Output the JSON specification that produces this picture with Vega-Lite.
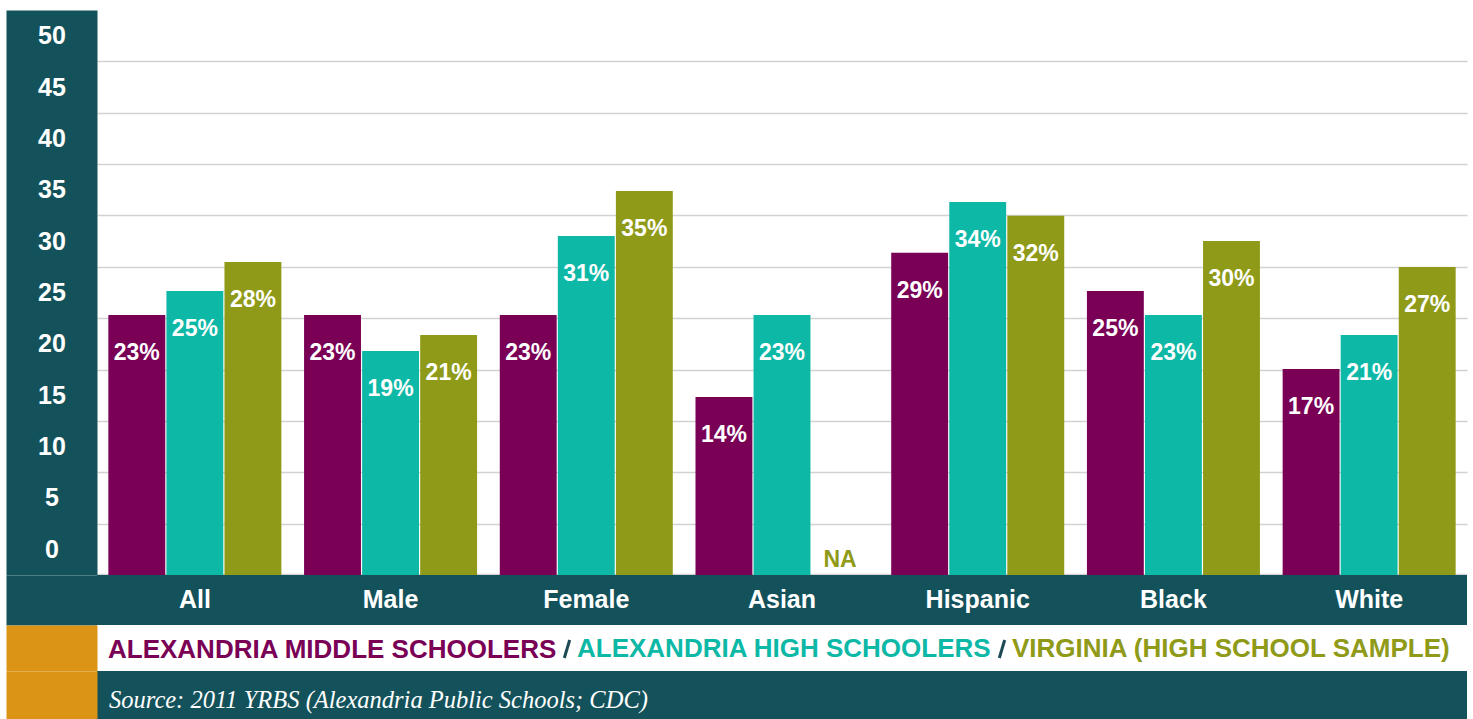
{
  "$schema": "https://vega.github.io/schema/vega-lite/v6.json",
  "background": "white",
  "padding": {"left": 5, "top": 10, "right": 7, "bottom": 0},
  "bounds": "flush",
  "spacing": 0,
  "config": {
    "view": {"stroke": null},
    "font": "Liberation Sans"
  },
  "datasets": {
    "rates": [
      {"group": "All", "series": "ALEXANDRIA MIDDLE SCHOOLERS", "value": 22.8, "label": "23%"},
      {"group": "All", "series": "ALEXANDRIA HIGH SCHOOLERS", "value": 25.15, "label": "25%"},
      {"group": "All", "series": "VIRGINIA (HIGH SCHOOL SAMPLE)", "value": 27.97, "label": "28%"},
      {"group": "Male", "series": "ALEXANDRIA MIDDLE SCHOOLERS", "value": 22.8, "label": "23%"},
      {"group": "Male", "series": "ALEXANDRIA HIGH SCHOOLERS", "value": 19.3, "label": "19%"},
      {"group": "Male", "series": "VIRGINIA (HIGH SCHOOL SAMPLE)", "value": 20.86, "label": "21%"},
      {"group": "Female", "series": "ALEXANDRIA MIDDLE SCHOOLERS", "value": 22.8, "label": "23%"},
      {"group": "Female", "series": "ALEXANDRIA HIGH SCHOOLERS", "value": 30.5, "label": "31%"},
      {"group": "Female", "series": "VIRGINIA (HIGH SCHOOL SAMPLE)", "value": 34.88, "label": "35%"},
      {"group": "Asian", "series": "ALEXANDRIA MIDDLE SCHOOLERS", "value": 14.83, "label": "14%"},
      {"group": "Asian", "series": "ALEXANDRIA HIGH SCHOOLERS", "value": 22.8, "label": "23%"},
      {"group": "Asian", "series": "VIRGINIA (HIGH SCHOOL SAMPLE)", "value": null, "label": "NA"},
      {"group": "Hispanic", "series": "ALEXANDRIA MIDDLE SCHOOLERS", "value": 28.87, "label": "29%"},
      {"group": "Hispanic", "series": "ALEXANDRIA HIGH SCHOOLERS", "value": 33.81, "label": "34%"},
      {"group": "Hispanic", "series": "VIRGINIA (HIGH SCHOOL SAMPLE)", "value": 32.47, "label": "32%"},
      {"group": "Black", "series": "ALEXANDRIA MIDDLE SCHOOLERS", "value": 25.15, "label": "25%"},
      {"group": "Black", "series": "ALEXANDRIA HIGH SCHOOLERS", "value": 22.8, "label": "23%"},
      {"group": "Black", "series": "VIRGINIA (HIGH SCHOOL SAMPLE)", "value": 30.01, "label": "30%"},
      {"group": "White", "series": "ALEXANDRIA MIDDLE SCHOOLERS", "value": 17.55, "label": "17%"},
      {"group": "White", "series": "ALEXANDRIA HIGH SCHOOLERS", "value": 20.86, "label": "21%"},
      {"group": "White", "series": "VIRGINIA (HIGH SCHOOL SAMPLE)", "value": 27.48, "label": "27%"}
    ],
    "groups": [
      {"group": "All"}, {"group": "Male"}, {"group": "Female"}, {"group": "Asian"},
      {"group": "Hispanic"}, {"group": "Black"}, {"group": "White"}
    ],
    "one": [{"k": 0}]
  },
  "vconcat": [
    {
      "width": 1370,
      "height": 565,
      "data": {"name": "rates"},
      "encoding": {
        "x": {
          "field": "group", "type": "nominal",
          "sort": ["All", "Male", "Female", "Asian", "Hispanic", "Black", "White"],
          "scale": {"paddingInner": 0.116, "paddingOuter": 0.058},
          "axis": null
        },
        "xOffset": {
          "field": "series", "type": "nominal",
          "sort": ["ALEXANDRIA MIDDLE SCHOOLERS", "ALEXANDRIA HIGH SCHOOLERS", "VIRGINIA (HIGH SCHOOL SAMPLE)"],
          "scale": {"paddingInner": 0.02, "paddingOuter": 0}
        }
      },
      "layer": [
        {
          "mark": {"type": "bar"},
          "encoding": {
            "y": {
              "field": "value", "type": "quantitative",
              "scale": {"domain": [-2.5, 52.5], "nice": false, "zero": false},
              "axis": {
                "orient": "left",
                "values": [-2.38, 2.5, 7.5, 12.5, 17.5, 22.5, 27.5, 32.5, 37.5, 42.5, 47.5],
                "labels": false, "ticks": false, "title": null,
                "domain": true, "domainColor": "#14525b", "domainWidth": 91, "offset": 45.5,
                "minExtent": 46, "maxExtent": 46,
                "grid": true, "gridColor": "#d2d2d2", "gridWidth": 1.5
              }
            },
            "y2": {"datum": -2.5},
            "color": {
              "field": "series", "type": "nominal",
              "sort": ["ALEXANDRIA MIDDLE SCHOOLERS", "ALEXANDRIA HIGH SCHOOLERS", "VIRGINIA (HIGH SCHOOL SAMPLE)"],
              "scale": {"range": ["#7a0056", "#0db8a6", "#8f9a18"]},
              "legend": {
                "orient": "none", "legendX": -8.5, "legendY": 626,
                "direction": "horizontal", "title": null, "padding": 0,
                "labelFont": "Liberation Sans", "labelFontWeight": "bold", "labelFontSize": 26,
                "labelLimit": 1000, "labelOffset": -3, "columnPadding": -8,
                "symbolType": "M0.45,-1.5L-0.45,1.5", "symbolSize": 144, "symbolOffset": -3.5,
                "encode": {
                  "labels": {"update": {"fill": {"signal": "scale('color', datum.value)"}}},
                  "symbols": {"update": {
                    "fill": {"value": "transparent"},
                    "stroke": {"value": "#1d4a55"},
                    "strokeWidth": {"value": 3},
                    "opacity": {"signal": "datum.value === 'ALEXANDRIA MIDDLE SCHOOLERS' ? 0 : 1"}
                  }}
                }
              }
            }
          }
        },
        {
          "mark": {"type": "text", "color": "white", "font": "Liberation Sans", "fontWeight": "bold", "fontSize": 23, "baseline": "middle", "dy": 38},
          "encoding": {
            "y": {
              "field": "value", "type": "quantitative",
              "axis": {
                "orient": "left", "values": [0, 5, 10, 15, 20, 25, 30, 35, 40, 45, 50],
                "grid": false, "domain": false, "ticks": false, "tickSize": 0, "title": null,
                "labelAlign": "center", "labelBaseline": "middle", "labelPadding": 45.5,
                "labelColor": "white", "labelFont": "Liberation Sans", "labelFontWeight": "bold", "labelFontSize": 25,
                "minExtent": 91, "zindex": 1
              }
            },
            "text": {"field": "label"}
          }
        },
        {
          "transform": [{"filter": "datum.value === null"}],
          "mark": {"type": "text", "color": "#8f9a18", "font": "Liberation Sans", "fontWeight": "bold", "fontSize": 23, "baseline": "middle"},
          "encoding": {
            "y": {"datum": -1.04, "type": "quantitative", "axis": null},
            "text": {"field": "label"}
          }
        }
      ],
      "resolve": {"axis": {"y": "independent"}}
    },
    {
      "width": 1370,
      "height": 50,
      "view": {"fill": "#14525b", "stroke": null},
      "data": {"name": "groups"},
      "mark": {"type": "text", "color": "white", "font": "Liberation Sans", "fontWeight": "bold", "fontSize": 25, "baseline": "middle"},
      "encoding": {
        "x": {
          "field": "group", "type": "nominal",
          "sort": ["All", "Male", "Female", "Asian", "Hispanic", "Black", "White"],
          "scale": {"paddingInner": 0.116, "paddingOuter": 0.058},
          "axis": null
        },
        "y": {
          "datum": 0, "type": "quantitative",
          "scale": {"domain": [-1, 1]},
          "axis": {"orient": "left", "labels": false, "ticks": false, "grid": false, "title": null,
                   "domain": true, "domainColor": "#14525b", "domainWidth": 91, "offset": 45.5,
                   "minExtent": 46, "maxExtent": 46}
        },
        "text": {"field": "group"}
      }
    },
    {
      "width": 1370,
      "height": 46,
      "view": {"fill": "white", "stroke": null},
      "data": {"name": "one"},
      "mark": {"type": "text", "opacity": 0},
      "encoding": {
        "y": {
          "datum": 0, "type": "quantitative",
          "scale": {"domain": [-1, 1]},
          "axis": {"orient": "left", "labels": false, "ticks": false, "grid": false, "title": null,
                   "domain": true, "domainColor": "#dc9416", "domainWidth": 91, "offset": 45.5,
                   "minExtent": 46, "maxExtent": 46}
        },
        "text": {"value": ""}
      }
    },
    {
      "width": 1370,
      "height": 48,
      "view": {"fill": "#14525b", "stroke": null},
      "title": {
        "text": "Source: 2011 YRBS (Alexandria Public Schools; CDC)",
        "orient": "top", "anchor": "start", "frame": "group",
        "offset": -61, "dx": 12, "baseline": "alphabetic",
        "font": "Liberation Serif", "fontStyle": "italic", "fontWeight": "normal",
        "fontSize": 24.5, "color": "white"
      },
      "data": {"name": "one"},
      "mark": {"type": "text", "opacity": 0},
      "encoding": {
        "y": {
          "datum": 0, "type": "quantitative",
          "scale": {"domain": [-1, 1]},
          "axis": {"orient": "left", "labels": false, "ticks": false, "grid": false, "title": null,
                   "domain": true, "domainColor": "#dc9416", "domainWidth": 91, "offset": 45.5,
                   "minExtent": 46, "maxExtent": 46}
        },
        "text": {"value": ""}
      }
    }
  ]
}
